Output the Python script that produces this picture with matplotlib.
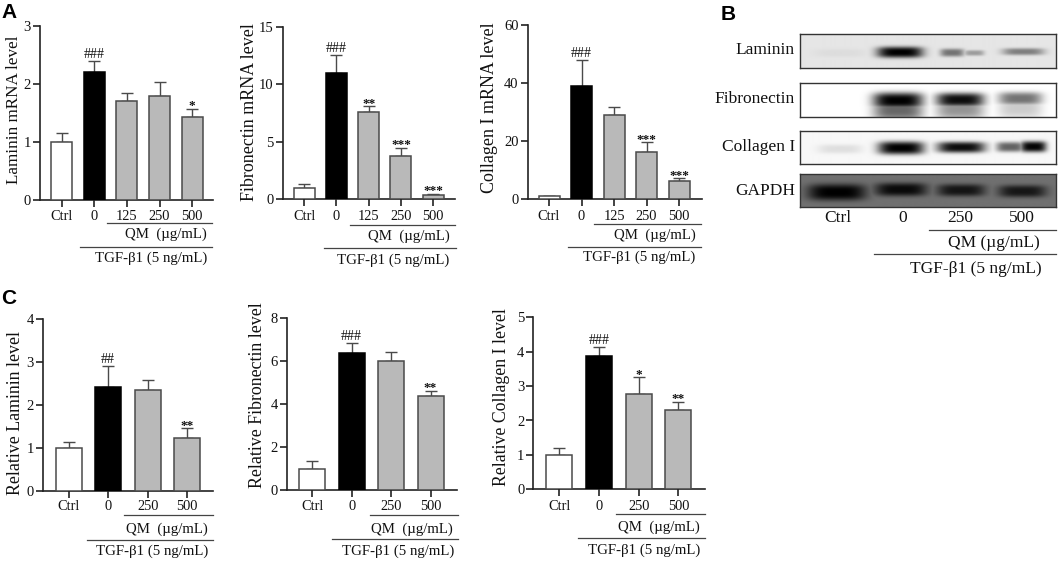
import numpy as np
import matplotlib
matplotlib.use("Agg")
import matplotlib.pyplot as plt

plt.rcParams['font.family'] = ['Liberation Serif', 'DejaVu Serif']
W, H = 1059, 565

# ---- data ----
cats_a = ['Ctrl', '0', '125', '250', '500']
cats_c = ['Ctrl', '0', '250', '500']
cats_b = ['Ctrl', '0', '250', '500']

a1_mean = [1.0, 2.2, 1.7, 1.79, 1.43]
a1_top = [1.15, 2.39, 1.84, 2.03, 1.57]
a1_sig = ['', '###', '', '', '*']
a2_mean = [1.0, 11.0, 7.6, 3.8, 0.4]
a2_top = [1.3, 12.5, 8.1, 4.5, 0.5]
a2_sig = ['', '###', '**', '***', '***']
a3_mean = [1.0, 39.0, 29.0, 16.2, 6.2]
a3_top = [1.2, 48.0, 31.8, 19.6, 7.3]
a3_sig = ['', '###', '', '***', '***']
c1_mean = [1.0, 2.43, 2.35, 1.23]
c1_top = [1.14, 2.9, 2.58, 1.46]
c1_sig = ['', '##', '', '**']
c2_mean = [1.0, 6.4, 6.0, 4.4]
c2_top = [1.35, 6.83, 6.45, 4.63]
c2_sig = ['', '###', '', '**']
c3_mean = [1.0, 3.88, 2.77, 2.3]
c3_top = [1.2, 4.14, 3.25, 2.55]
c3_sig = ['', '###', '*', '**']

blot_names = ['Laminin', 'Fibronectin', 'Collagen I', 'GAPDH']
# band darkness per lobe
laminin_bands = [0.04, 1.0, 0.50, 0.32, 0.45]
fibronectin_bands = [1.0, 0.95, 0.55, 0.60, 0.42, 0.20]
collagen_bands = [0.10, 1.0, 0.95, 0.60, 0.98]
gapdh_bands = [1.0, 0.92, 0.82, 0.80]

QM = 'QM  (µg/mL)'
TGF = 'TGF-β1 (5 ng/mL)'
EDGE = '#4a4a4a'
DARK = '#222222'
INK = '#111111'


def to_fig_x(p):
    return p / W


def to_fig_y(p):
    return 1 - p / H


over = None


def panel(cats, mean, top, sig, ymax, yticks, ylabel, ax_left, ax_right, ax_top, ax_bot,
          first, step, bw, tick_y, qm, tgf, ylab):
    ax = fig.add_axes([to_fig_x(ax_left), to_fig_y(ax_bot),
                       (ax_right - ax_left) / W, (ax_bot - ax_top) / H])
    ax.patch.set_alpha(0)
    ax.set_xlim((ax_left - first) / step, (ax_right - first) / step)
    ax.set_ylim(0, ymax)
    x = np.arange(len(cats))
    colors = ['white', 'black'] + ['#b9b9b9'] * (len(cats) - 2)
    edges = [EDGE, 'black'] + [EDGE] * (len(cats) - 2)
    ax.bar(x, mean, width=bw / step, color=colors, edgecolor=edges, linewidth=1.1, zorder=3)
    yerr = np.array(top) - np.array(mean)
    ax.errorbar(x, mean, yerr=[np.zeros(len(x)), yerr], fmt='none', ecolor=EDGE,
                elinewidth=1.0, capsize=4.6, capthick=1.0, zorder=2)
    for s in ('top', 'right'):
        ax.spines[s].set_visible(False)
    for s in ('left', 'bottom'):
        ax.spines[s].set_linewidth(1.2)
        ax.spines[s].set_color(DARK)
    ax.set_yticks(yticks)
    ax.set_xticks(x)
    ax.set_xticklabels([])
    ax.tick_params(axis='y', length=5, width=1.2, color=DARK, labelsize=10.5, pad=1.5, labelcolor=INK)
    ax.tick_params(axis='x', length=5, width=1.2, color=DARK)
    for i, s in enumerate(sig):
        if not s:
            continue
        if '#' in s:
            ax.annotate(s, (i, top[i]), xytext=(0, 0.2), textcoords='offset points',
                        ha='center', va='bottom', fontsize=10, color=INK)
        else:
            ax.annotate(s, (i, top[i]), xytext=(0, -2.5), textcoords='offset points',
                        ha='center', va='bottom', fontsize=9.5, fontweight='bold', color=INK)
    for i, c in enumerate(cats):
        over.text(first + i * step, tick_y, c, ha='center', va='center', fontsize=10.4, color=INK)
    over.plot(qm[0], [qm[1], qm[1]], color='#444444', lw=0.9)
    over.text(qm[2], qm[3], QM, ha='center', va='center', fontsize=10.7, color=INK)
    over.plot(tgf[0], [tgf[1], tgf[1]], color='#444444', lw=0.9)
    over.text(tgf[2], tgf[3], TGF, ha='center', va='center', fontsize=10.7, color=INK)
    over.text(ylab[0], ylab[1], ylabel, rotation=90, ha='center', va='center', fontsize=ylab[2], color=INK)
    return ax


def blot(bands, geom, left, right, top, bot, bg):
    ax = fig.add_axes([to_fig_x(left), to_fig_y(bot), (right - left) / W, (bot - top) / H])
    px = np.arange(left, right, 0.5)
    py = np.arange(top, bot, 0.5)
    xx, yy = np.meshgrid(px, py)
    img = np.zeros_like(xx)
    for b, (cx, hw, cy, hh) in zip(bands, geom):
        blob = np.exp(-(np.abs((xx - cx) / hw) ** 4 + np.abs((yy - cy) / hh) ** 3))
        img = np.maximum(img, b * blob)
    gray = bg * (1 - img)
    ax.imshow(gray, cmap='gray', vmin=0, vmax=1, aspect='auto', interpolation='bilinear')
    ax.set_xticks([])
    ax.set_yticks([])
    for s in ax.spines.values():
        s.set_linewidth(1.0)
        s.set_color('#333333')


fig = plt.figure(figsize=(W / 100, H / 100), dpi=100, facecolor='white')
over = fig.add_axes([0, 0, 1, 1], zorder=5)
over.set_xlim(0, W)
over.set_ylim(H, 0)
over.axis('off')

panel(cats_a, a1_mean, a1_top, a1_sig, 3, [0, 1, 2, 3], 'Laminin mRNA level', 40, 213, 26, 200,
      61.7, 32.6, 21, 217, ((107, 212), 222.7, 166, 234), ((80, 212), 246.7, 150.7, 258), (14, 110, 12.3))
panel(cats_a, a2_mean, a2_top, a2_sig, 15, [0, 5, 10, 15], 'Fibronectin mRNA level', 282.7, 455, 26.7, 199.3,
      304, 32.3, 21, 217, ((350, 455), 225, 409, 236.7), ((324.3, 455.7), 248.3, 392.7, 260), (249, 112, 13))
panel(cats_a, a3_mean, a3_top, a3_sig, 60, [0, 20, 40, 60], 'Collagen I mRNA level', 527.7, 701.7, 25, 199.3,
      549, 32.5, 21, 217, ((594, 700.7), 224, 655, 235), ((568, 701), 246.7, 639, 257), (490, 108, 13))
panel(cats_c, c1_mean, c1_top, c1_sig, 4, [0, 1, 2, 3, 4], 'Relative Laminin level', 42.7, 213, 319.3, 490.7,
      68.7, 39.5, 26, 507, ((124, 212.7), 515, 166.7, 529), ((86.7, 212.7), 540, 151.7, 551.7), (16, 413, 12.9))
panel(cats_c, c2_mean, c2_top, c2_sig, 8, [0, 2, 4, 6, 8], 'Relative Fibronectin level', 286.7, 456.7, 318.3, 490,
      312.3, 39.4, 26, 507, ((370, 457.7), 515, 412.3, 529), ((331.7, 457.7), 539.3, 398.3, 551.7), (257, 395, 12.9))
panel(cats_c, c3_mean, c3_top, c3_sig, 5, [0, 1, 2, 3, 4, 5], 'Relative Collagen I level', 533.3, 705, 317.3, 489.3,
      559.3, 39.7, 26, 506.7, ((616, 705), 514, 659.3, 527.3), ((577.7, 705), 538.3, 644, 550.7), (501, 397, 12.8))

blot(laminin_bands,
     [(840, 26, 53, 4), (900, 23, 52.3, 5.5), (952, 12, 52.7, 4), (974, 10, 53, 2.8), (1023, 21, 51.7, 3.5)],
     800.3, 1055.7, 34.3, 68, 0.90)
blot(fibronectin_bands,
     [(898, 25, 100, 8), (960, 24, 99.3, 7), (1020, 22, 98, 6.5),
      (898, 25, 109, 11), (960, 24, 108, 11), (1020, 22, 107, 11)],
     800.3, 1055.7, 82.7, 116.7, 1.0)
blot(collagen_bands,
     [(840, 22, 149, 4.5), (901, 23, 148, 6.5), (961, 24, 147.3, 5.5), (1010, 14, 147, 5), (1033, 13, 146.7, 5.5)],
     800.3, 1055.7, 131.3, 164.3, 0.97)
blot(gapdh_bands,
     [(837, 29, 192.7, 8), (901, 26, 190, 6.5), (961, 24, 190.7, 6), (1022, 24, 191.7, 6)],
     800.3, 1055.7, 174, 207.3, 0.44)

for name, y in zip(blot_names, [50, 99.3, 146.7, 191]):
    over.text(795, y, name, ha='right', va='center', fontsize=12.5, color=INK)
for c, xp in zip(cats_b, [838.3, 902.7, 960, 1021.7]):
    over.text(xp, 218, c, ha='center', va='center', fontsize=12.5, color=INK)
over.plot([929, 1056], [230, 230], color='#444444', lw=0.9)
over.text(994, 242.7, 'QM (µg/mL)', ha='center', va='center', fontsize=12.5, color=INK)
over.plot([874.3, 1056], [254.3, 254.3], color='#444444', lw=0.9)
over.text(976, 269, TGF, ha='center', va='center', fontsize=12.5, color=INK)

for letter, xp, yp in [('A', 9, 12), ('B', 728, 15), ('C', 9, 299)]:
    over.text(xp, yp, letter, ha='center', va='center', fontsize=15, fontweight='bold',
              family='Liberation Sans', color='black')

fig.savefig('out.png', dpi=100)
